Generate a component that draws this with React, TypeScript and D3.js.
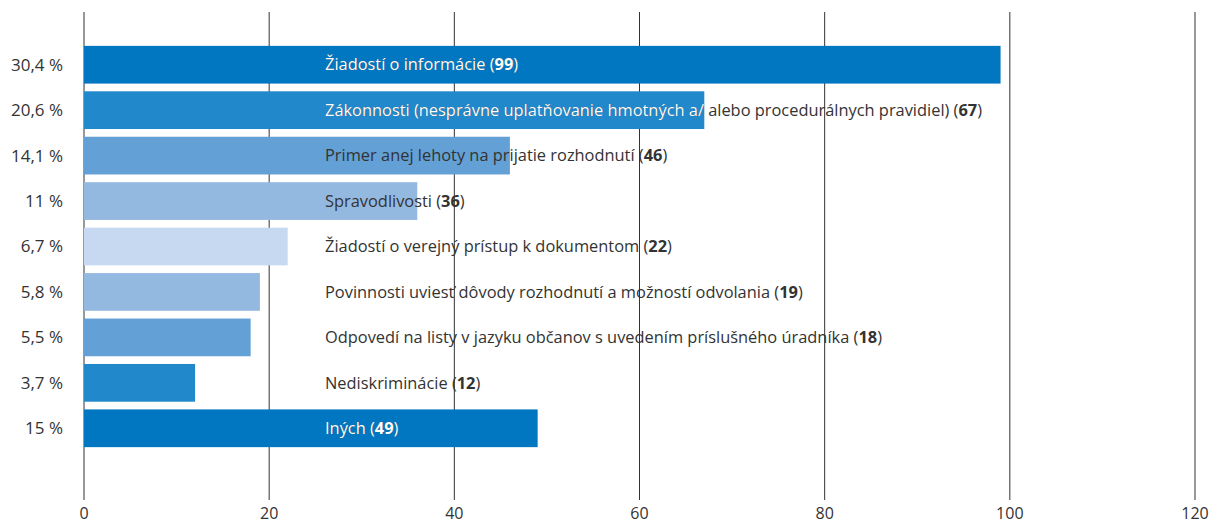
import { useRef, useEffect } from "react";
import * as d3 from "d3";

// complaint categories, counts and their shares
const categories = [
  "Žiadostí o informácie",
  "Zákonnosti (nesprávne uplatňovanie hmotných a/ alebo procedurálnych pravidiel)",
  "Primer anej lehoty na prijatie rozhodnutí",
  "Spravodlivosti",
  "Žiadostí o verejný prístup k dokumentom",
  "Povinnosti uviesť dôvody rozhodnutí a možností odvolania",
  "Odpovedí na listy v jazyku občanov s uvedením príslušného úradníka",
  "Nediskriminácie",
  "Iných",
];
const counts = [99, 67, 46, 36, 22, 19, 18, 12, 49];
const shares = ["30,4 %", "20,6 %", "14,1 %", "11 %", "6,7 %", "5,8 %", "5,5 %", "3,7 %", "15 %"];
const xTicks = [0, 20, 40, 60, 80, 100, 120];

const palette = ["#0077c0", "#2088cb", "#62a0d6", "#94b9e1", "#c6d9f0", "#94b9e1", "#62a0d6", "#2088cb", "#0077c0"];
const whiteText = [true, true, false, false, false, false, false, false, true];

const App = () => {
  const svgRef = useRef<SVGSVGElement | null>(null);

  useEffect(() => {
    const w = 1211;
    const h = 523;
    const svg = d3.select(svgRef.current).attr("width", w).attr("height", h);
    svg.selectAll("*").remove();

    const font = "'Open Sans', sans-serif";
    const x = d3.scaleLinear().domain([0, 120]).range([84, 1195]);
    const y = d3
      .scaleBand<number>()
      .domain(d3.range(categories.length))
      .range([42, 451])
      .paddingInner(0.17)
      .paddingOuter(0.085);

    // vertical grid lines
    svg
      .append("g")
      .selectAll("line")
      .data(xTicks)
      .join("line")
      .attr("x1", (d) => x(d))
      .attr("x2", (d) => x(d))
      .attr("y1", 12)
      .attr("y2", 500)
      .attr("stroke", "#333")
      .attr("stroke-width", 1);

    // tick labels
    svg
      .append("g")
      .selectAll("text")
      .data(xTicks)
      .join("text")
      .attr("x", (d) => x(d))
      .attr("y", 519)
      .attr("text-anchor", "middle")
      .attr("font-family", font)
      .attr("font-size", 16)
      .attr("fill", "#333")
      .text((d) => d);

    // bars
    svg
      .append("g")
      .selectAll("rect")
      .data(counts)
      .join("rect")
      .attr("x", x(0))
      .attr("y", (d, i) => y(i)!)
      .attr("width", (d) => x(d) - x(0))
      .attr("height", y.bandwidth())
      .attr("fill", (d, i) => palette[i]);

    const defs = svg.append("defs");
    counts.forEach((d, i) => {
      defs
        .append("clipPath")
        .attr("id", "clip" + i)
        .append("rect")
        .attr("x", x(0))
        .attr("y", y(i)!)
        .attr("width", x(d) - x(0))
        .attr("height", y.bandwidth());
    });

    const addLabel = (g: any, i: number, color: string) => {
      const t = g
        .append("text")
        .attr("x", 325)
        .attr("y", y(i)! + y.bandwidth() / 2)
        .attr("dy", "0.35em")
        .attr("font-family", font)
        .attr("font-size", 16.4)
        .attr("fill", color);
      t.append("tspan").text(categories[i] + " (");
      t.append("tspan").attr("font-weight", "bold").text(counts[i]);
      t.append("tspan").text(")");
    };

    const labels = svg.append("g");
    counts.forEach((d, i) => {
      addLabel(labels, i, "#333");
      if (whiteText[i]) {
        // white part of the label sits over the bar
        const g = labels.append("g").attr("clip-path", `url(#clip${i})`);
        addLabel(g, i, "#fff");
      }
    });

    // share labels on the left
    svg
      .append("g")
      .selectAll("text")
      .data(shares)
      .join("text")
      .attr("x", 63)
      .attr("y", (d, i) => y(i)! + y.bandwidth() / 2)
      .attr("dy", "0.35em")
      .attr("text-anchor", "end")
      .attr("font-family", font)
      .attr("font-size", 17)
      .attr("fill", "#333")
      .text((d) => d);
  }, []);

  return <svg ref={svgRef} style={{ position: "absolute", left: 0, top: 0 }}></svg>;
};

export default App;
